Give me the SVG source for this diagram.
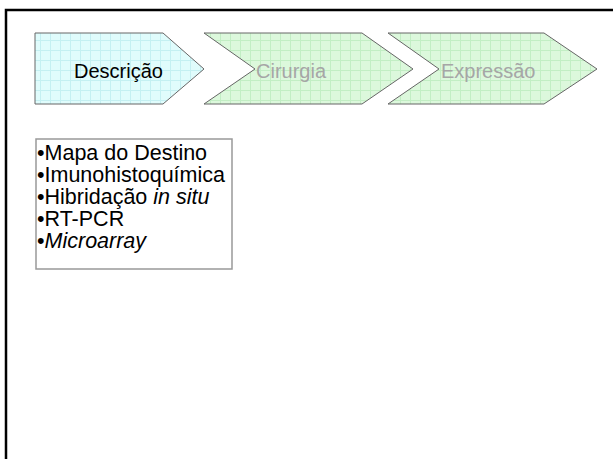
<svg xmlns="http://www.w3.org/2000/svg" width="613" height="459" viewBox="0 0 613 459">
<style>
.frame{fill:none;stroke:#000;stroke-width:2.5}
.step{stroke:#666;stroke-width:1}
.cyan{fill:url(#gridC)}
.green{fill:url(#gridG)}
.hdr{font-family:"Liberation Sans",Arial,sans-serif;font-size:20px}
.on{fill:#000}
.off{fill:#a6a6a6}
.list{font-family:"Liberation Sans",Arial,sans-serif;font-size:21.5px;fill:#000}
.box{fill:#fff;stroke:#999;stroke-width:1.5}
</style>
<defs>
<pattern id="gridC" width="10" height="10" patternUnits="userSpaceOnUse">
<rect width="10" height="10" fill="#e0fcfc"/>
<path d="M0,0.5H10M0.5,0V10" stroke="#c4f0f2" stroke-width="1"/>
</pattern>
<pattern id="gridG" width="10" height="10" patternUnits="userSpaceOnUse">
<rect width="10" height="10" fill="#dcf8dc"/>
<path d="M0,0.5H10M0.5,0V10" stroke="#c2eec4" stroke-width="1"/>
</pattern>
</defs>
<rect width="613" height="459" fill="#fff"/>
<path class="frame" d="M6,459V10H613"/>
<g id="step-descricao">
<path class="step cyan" d="M35,33H163L204,69L163,104H35Z"/>
<text class="hdr on" x="74" y="78">Descrição</text>
</g>
<g id="step-cirurgia">
<path class="step green" d="M204,33H362L413,69L362,104H204L255,69Z"/>
<text class="hdr off" x="256" y="78">Cirurgia</text>
</g>
<g id="step-expressao">
<path class="step green" d="M388,33H544L597,69L544,104H388L439,69Z"/>
<text class="hdr off" x="441" y="78">Expressão</text>
</g>
<g id="list-box">
<rect class="box" x="36" y="139" width="196" height="130"/>
<text class="list">
<tspan x="37" y="160">•Mapa do Destino</tspan>
<tspan x="37" y="182">•Imunohistoquímica</tspan>
<tspan x="37" y="204">•Hibridação <tspan font-style="italic">in situ</tspan></tspan>
<tspan x="37" y="226">•RT-PCR</tspan>
<tspan x="37" y="248">•<tspan font-style="italic">Microarray</tspan></tspan>
</text>
</g>
<g id="connectors"/>
</svg>
